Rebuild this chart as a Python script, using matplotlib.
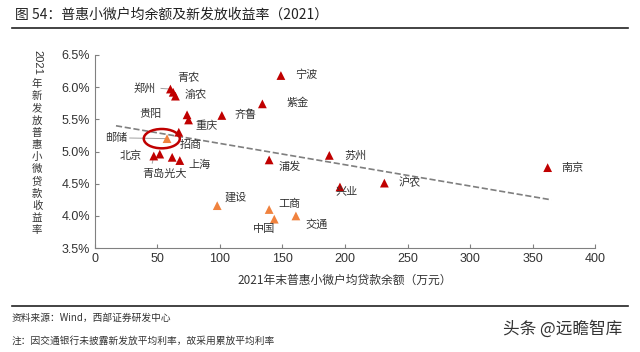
import matplotlib.pyplot as plt
from matplotlib.patches import Ellipse
from matplotlib.ticker import FuncFormatter

plt.rcParams['font.family'] = ['Noto Sans CJK SC', 'DejaVu Sans']

# ---- datos ----
bancos = ['宁波', '紫金', '齐鲁', '郑州', '青农', '渝农', '贵阳', '重庆', '招商',
          '北京', '青岛', '光大', '上海', '浦发', '苏州', '兴业', '沪农', '南京',
          '邮储', '建设', '工商', '中国', '交通']
saldo = [148.8, 134.0, 101.6, 60.5, 62.7, 64.5, 73.8, 75.0, 67.2,
         47.2, 52.0, 61.9, 68.0, 139.4, 187.5, 196.0, 231.5, 362.0,
         57.8, 97.9, 139.4, 143.5, 160.8]
tasa = [6.18, 5.74, 5.56, 5.97, 5.92, 5.86, 5.57, 5.49, 5.30,
        4.93, 4.96, 4.91, 4.86, 4.87, 4.94, 4.45, 4.51, 4.75,
        5.20, 4.16, 4.10, 3.95, 4.00]
grandes = ['邮储', '建设', '工商', '中国', '交通']

trend_x = [17, 365]
trend_y = [5.40, 4.25]

# ---- estilo ----
rojo = '#C00000'
naranja = '#F0823E'
txt_color = '#333333'

# posiciones de las etiquetas (texto, x, y)
etiquetas = {
    '宁波': ('宁波', 169, 6.19), '紫金': ('紫金', 162, 5.75), '齐鲁': ('齐鲁', 121, 5.57),
    '青农': ('青农', 74.6, 6.15), '郑州': ('郑州', 40, 5.98), '渝农': ('渝农', 81, 5.88),
    '贵阳': ('贵阳', 44.8, 5.59), '重庆': ('重庆', 89.5, 5.39), '邮储': ('邮储', 17.5, 5.21),
    '招商': ('招商', 77, 5.10), '北京': ('北京', 29, 4.93), '上海': ('上海', 84, 4.80),
    '光大': ('青岛光大', 56, 4.66), '浦发': ('浦发', 156, 4.77), '苏州': ('苏州', 208, 4.94),
    '南京': ('南京', 382, 4.75), '沪农': ('沪农', 252, 4.51), '兴业': ('兴业', 201, 4.37),
    '建设': ('建设', 113, 4.28), '工商': ('工商', 156, 4.18), '中国': ('中国', 135, 3.80),
    '交通': ('交通', 177, 3.86),
}

fig = plt.figure(figsize=(6.4, 3.52), dpi=100)
ax = fig.add_axes([0.148, 0.295, 0.782, 0.549])

colores = [naranja if b in grandes else rojo for b in bancos]
ax.scatter(saldo, tasa, marker='^', s=40, c=colores, zorder=3, linewidths=0)
ax.plot(trend_x, trend_y, ls='--', color='#7F7F7F', lw=1.2, zorder=2)

for b, (t, lx, ly) in etiquetas.items():
    ax.text(lx, ly, t, fontsize=8, color=txt_color, ha='center', va='center')

# líneas guía
i = bancos.index('郑州')
ax.plot([53, saldo[i]], [5.98, tasa[i]], color='#A0A0A0', lw=0.7)
i = bancos.index('邮储')
ax.plot([28, saldo[i]], [5.21, tasa[i]], color='#A0A0A0', lw=0.7)
i = bancos.index('北京')
ax.plot([46, saldo[i]], [4.82, tasa[i]], color='#A0A0A0', lw=0.7)

ax.add_patch(Ellipse((53.6, 5.20), width=28.8, height=0.30, fill=False,
                     edgecolor=rojo, lw=1.8, zorder=4))

ax.set_xlim(0, 400)
ax.set_ylim(3.5, 6.5)
ax.set_xticks(range(0, 401, 50))
ax.set_yticks([3.5, 4.0, 4.5, 5.0, 5.5, 6.0, 6.5])
ax.yaxis.set_major_formatter(FuncFormatter(lambda v, p: f'{v:.1f}%'))
for s in ['top', 'right']:
    ax.spines[s].set_visible(False)
for s in ['left', 'bottom']:
    ax.spines[s].set_color('#808080')
ax.tick_params(direction='in', length=3, color='#808080', labelsize=9,
               labelcolor=txt_color)
for lab in ax.get_xticklabels() + ax.get_yticklabels():
    lab.set_fontfamily(['Liberation Sans', 'DejaVu Sans'])
ax.set_xlabel('2021年末普惠小微户均贷款余额（万元）', fontsize=8.5, color=txt_color,
              labelpad=6)

# etiqueta vertical del eje y
fig.text(0.058, 1 - 50 / 352, '2021', rotation=-90, fontsize=8, ha='center', va='top',
         color=txt_color, family=['Liberation Sans', 'DejaVu Sans'])
chars = '年新发放普惠小微贷款收益率'
for k, ch in enumerate(chars):
    y = 84 + k * 12.2
    fig.text(0.058, 1 - y / 352, ch, fontsize=7.5, ha='center', va='center', color=txt_color)

# título y notas
fig.text(15 / 640, 1 - 15 / 352, '图 54：普惠小微户均余额及新发放收益率（2021）',
         fontsize=10, ha='left', va='center', color='#222222')
fig.add_artist(plt.Line2D([12 / 640, 628 / 640], [1 - 28 / 352] * 2, color='#222222', lw=1.2))
fig.add_artist(plt.Line2D([12 / 640, 628 / 640], [1 - 306 / 352] * 2, color='#222222', lw=1.2))
fig.text(12 / 640, 1 - 318 / 352, '资料来源：Wind，西部证券研发中心', fontsize=7,
         ha='left', va='center', color=txt_color)
fig.text(12 / 640, 1 - 341 / 352, '注：因交通银行未披露新发放平均利率，故采用累放平均利率',
         fontsize=7, ha='left', va='center', color=txt_color)
fig.text(622 / 640, 1 - 329 / 352, '头条 @远瞻智库', fontsize=12, ha='right',
         va='center', color='#333333')

fig.savefig('out.png', dpi=100)
